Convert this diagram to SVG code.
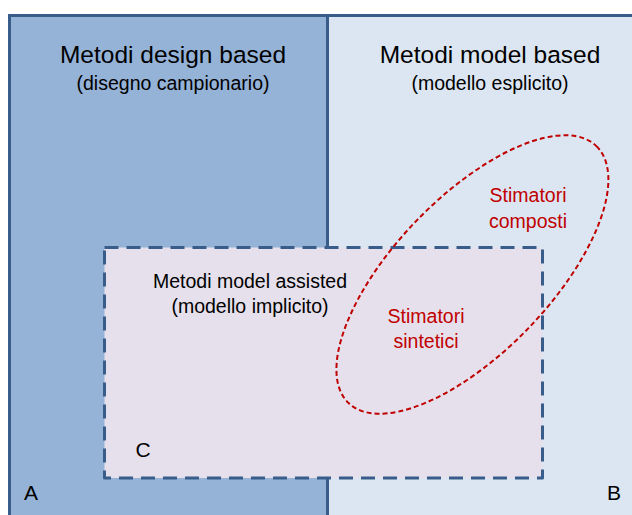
<svg xmlns="http://www.w3.org/2000/svg" width="632" height="515" viewBox="0 0 632 515">
<style>
text{font-family:"Liberation Sans",Arial,sans-serif;fill:#000;text-anchor:middle}
.t{font-size:24.5px}
.s{font-size:19.5px}
.r{fill:#C00000;font-size:19.5px}
.l{font-size:21px}
</style>
<rect width="632" height="515" fill="#fff"/>
<g id="A">
<rect x="9.5" y="15.5" width="318" height="530" fill="#95B3D7" stroke="#385D8A" stroke-width="3"/>
<text class="t" x="173" y="63">Metodi design based</text>
<text class="s" x="173" y="90">(disegno campionario)</text>
<text class="l" x="31" y="500">A</text>
</g>
<g id="B">
<rect x="327.5" y="15.5" width="330" height="530" fill="#DCE6F2" stroke="#385D8A" stroke-width="3"/>
<text class="t" x="490" y="63">Metodi model based</text>
<text class="s" x="490" y="90">(modello esplicito)</text>
<text class="l" x="614" y="500">B</text>
</g>
<g id="C">
<rect x="104.5" y="247.5" width="438" height="230.5" fill="#E6E0EC" stroke="#385D8A" stroke-width="3" stroke-dasharray="14,8" stroke-linejoin="round"/>
<text class="s" x="250" y="288">Metodi model assisted</text>
<text class="s" x="250" y="313">(modello implicito)</text>
<text class="l" x="143" y="457">C</text>
</g>
<g id="ellipse">
<ellipse cx="472.4" cy="274.5" rx="178.5" ry="77.6" transform="rotate(-46 472.4 274.5)" fill="none" stroke="#C00000" stroke-width="2" stroke-dasharray="5,3"/>
<text class="r" x="528" y="202">Stimatori</text>
<text class="r" x="528" y="228">composti</text>
<text class="r" x="426" y="323">Stimatori</text>
<text class="r" x="426" y="348">sintetici</text>
</g>
</svg>
